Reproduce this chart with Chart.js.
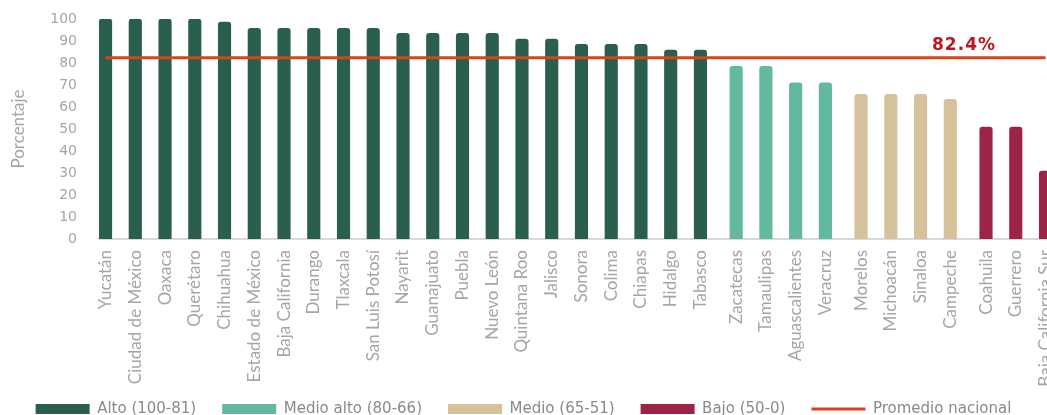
<!DOCTYPE html>
<html lang="es">
<head>
<meta charset="utf-8">
<script src="https://cdn.jsdelivr.net/npm/chart.js@4.4.1/dist/chart.umd.min.js"></script>
<style>
  html, body { margin: 0; padding: 0; background: #fff; overflow: hidden; }
  #wrap { width: 1047px; height: 415px; position: relative; }
</style>
</head>
<body>
<div id="wrap"><canvas id="grafica"></canvas></div>
<script>
// Datos por entidad federativa
const estados = [
    'Yucatán', 'Ciudad de México', 'Oaxaca', 'Querétaro', 'Chihuahua', 'Estado de México',
    'Baja California', 'Durango', 'Tlaxcala', 'San Luis Potosí', 'Nayarit', 'Guanajuato',
    'Puebla', 'Nuevo León', 'Quintana Roo', 'Jalisco', 'Sonora', 'Colima', 'Chiapas',
    'Hidalgo', 'Tabasco', 'Zacatecas', 'Tamaulipas', 'Aguascalientes', 'Veracruz',
    'Morelos', 'Michoacán', 'Sinaloa', 'Campeche', 'Coahuila', 'Guerrero', 'Baja California Sur'
];
const porcentajes = [
    100, 100, 100, 100, 98.6, 95.8,
    95.8, 95.8, 95.8, 95.8, 93.5, 93.5,
    93.5, 93.5, 90.9, 90.9, 88.5, 88.5, 88.5,
    85.9, 85.9, 78.5, 78.5, 71.0, 71.0,
    65.8, 65.8, 65.8, 63.5, 50.9, 50.9, 30.9
];
// 0 = Alto, 1 = Medio alto, 2 = Medio, 3 = Bajo
const nivelDeEstado = [
    0, 0, 0, 0, 0, 0, 0, 0, 0, 0, 0, 0, 0, 0, 0, 0, 0, 0, 0, 0, 0,
    1, 1, 1, 1,
    2, 2, 2, 2,
    3, 3, 3
];
const niveles = ['Alto (100-81)', 'Medio alto (80-66)', 'Medio (65-51)', 'Bajo (50-0)'];
const coloresNivel = ['#2a5e4f', '#62b9a0', '#d5c29b', '#9d2449'];
const promedioNacional = 82.4;
const etiquetaPromedio = 'Promedio nacional';

const SEPARACION_GRUPO = 0.2;   // espacio extra entre niveles
const posX = estados.map((e, i) => i + nivelDeEstado[i] * SEPARACION_GRUPO);

const GRIS = '#a6a6a6';

const datasets = niveles.map(function (nombre, n) {
    return {
        type: 'bar',
        label: nombre,
        data: posX.map((x, i) => ({ x: x, y: porcentajes[i], n: nivelDeEstado[i] }))
                  .filter(p => p.n === n),
        backgroundColor: coloresNivel[n],
        barThickness: 12.5,
        grouped: false,
        borderRadius: { topLeft: 3, topRight: 3 },
        borderSkipped: 'bottom',
        pointStyle: 'rect',
        order: 1
    };
});

datasets.push({
    type: 'line',
    label: etiquetaPromedio,
    data: posX.map(x => ({ x: x, y: promedioNacional })),
    borderColor: '#d6441b',
    backgroundColor: '#d6441b',
    borderWidth: 3,
    pointRadius: 0,
    pointStyle: 'line',
    order: 0
});

// etiqueta del promedio sobre la línea
const etiquetaLinea = {
    id: 'etiquetaLinea',
    afterLayout: function (chart) {
        // los nombres largos bajan hasta la zona de la leyenda: no recortarlos
        chart.scales.x.bottom = chart.height;
    },
    afterDatasetsDraw: function (chart) {
        const ctx = chart.ctx;
        const y = chart.scales.y.getPixelForValue(promedioNacional);
        ctx.save();
        ctx.font = 'bold 17px "DejaVu Sans"';
        ctx.letterSpacing = '1px';
        ctx.fillStyle = '#c0141f';
        ctx.textAlign = 'center';
        ctx.textBaseline = 'bottom';
        ctx.fillText(promedioNacional.toFixed(1) + '%', chart.chartArea.right - 83, y - 4);
        ctx.restore();
    }
};

new Chart(document.getElementById('grafica'), {
    data: { datasets: datasets },
    options: {
        responsive: true,
        maintainAspectRatio: false,
        animation: false,
        layout: { padding: { top: 19, right: 0, bottom: -11.5, left: 0 } },
        plugins: {
            tooltip: { enabled: false },
            legend: {
                position: 'bottom',
                labels: {
                    usePointStyle: true,
                    pointStyleWidth: 54,
                    boxHeight: 10,
                    padding: 26,
                    color: '#8a8a8a',
                    font: { family: 'DejaVu Sans', size: 15 },
                    sort: (a, b) => a.datasetIndex - b.datasetIndex
                }
            }
        },
        scales: {
            x: {
                type: 'linear',
                min: -0.22,
                max: 31.65,
                offset: false,
                grid: { display: false, drawTicks: false },
                border: { display: true, color: '#d9d9d9', width: 2 },
                ticks: {
                    autoSkip: false,
                    minRotation: 90,
                    maxRotation: 90,
                    padding: 11,
                    color: GRIS,
                    font: { family: 'Lato', size: 17 },
                    callback: (v, i) => estados[i]
                },
                afterBuildTicks: function (s) {
                    s.ticks = posX.map(v => ({ value: v }));
                },
                afterFit: function (s) {
                    s.paddingLeft = 0;
                    s.paddingRight = 0;
                    s.height = 136.5;
                }
            },
            y: {
                min: 0,
                max: 100,
                grid: { display: false, drawTicks: false },
                border: { display: false },
                ticks: {
                    stepSize: 10,
                    padding: 22,
                    color: GRIS,
                    font: { family: 'DejaVu Sans', size: 14 }
                },
                title: {
                    display: true,
                    text: 'Porcentaje',
                    color: GRIS,
                    font: { family: 'Lato', size: 17 },
                    padding: { top: 8, bottom: 0 }
                },
                afterFit: function (s) {
                    s.width = 99;
                    s.paddingTop = 0;
                    s.paddingBottom = 0;
                }
            }
        }
    },
    plugins: [etiquetaLinea]
});
</script>
</body>
</html>
